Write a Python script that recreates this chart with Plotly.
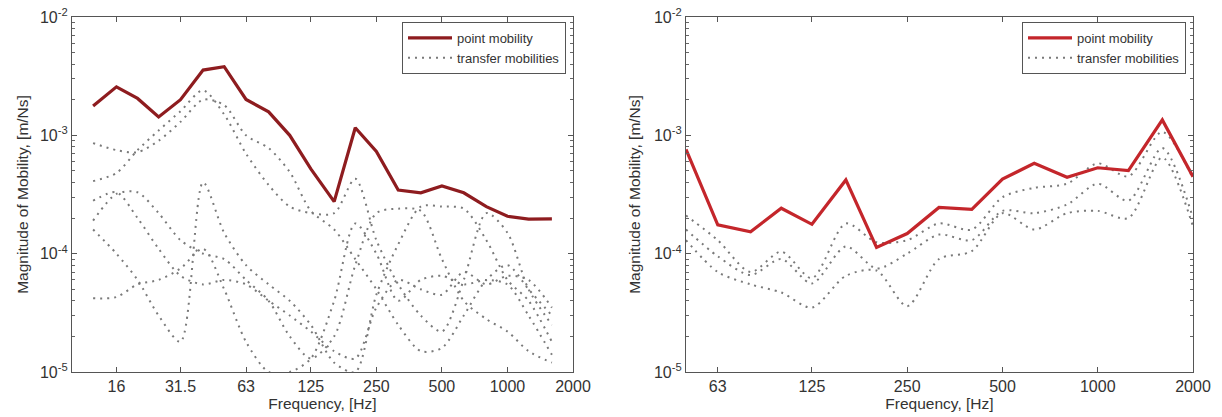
import plotly.graph_objects as go

# ---------------- data ----------------
freq_left = [12.5, 16, 20, 25, 31.5, 40, 50, 63, 80, 100, 125, 160, 200, 250, 315, 400, 500, 630, 800, 1000, 1250, 1600]
point_left = [1.77e-3, 2.57e-3, 2.05e-3, 1.43e-3, 2.0e-3, 3.56e-3, 3.8e-3, 2.01e-3, 1.58e-3, 1.0e-3, 5.2e-4, 2.75e-4,
              1.16e-3, 7.3e-4, 3.45e-4, 3.27e-4, 3.73e-4, 3.27e-4, 2.5e-4, 2.07e-4, 1.96e-4, 1.97e-4]
transfer_left_1 = [4.1e-4, 4.8e-4, 7.5e-4, 1.1e-3, 1.6e-3, 2.4e-3, 1.5e-3, 7.0e-4, 3.8e-4, 2.5e-4, 2.2e-4, 2.2e-4,
                   4.3e-4, 1.3e-4, 5.5e-5, 3.0e-5, 2.2e-5, 6.0e-5, 2.2e-4, 1.5e-4, 5.0e-5, 2.5e-5]
transfer_left_2 = [8.6e-4, 7.5e-4, 7.2e-4, 9.0e-4, 1.3e-3, 2.0e-3, 1.8e-3, 1.0e-3, 7.8e-4, 4.9e-4, 2.3e-4, 1.6e-4,
                   9.0e-5, 5.0e-5, 2.5e-5, 1.5e-5, 1.6e-5, 3.0e-5, 6.0e-5, 8.0e-5, 5.0e-5, 3.0e-5]
transfer_left_3 = [1.9e-4, 3.2e-4, 3.3e-4, 2.2e-4, 1.3e-4, 1.0e-4, 9.0e-5, 6.0e-5, 4.0e-5, 2.0e-5, 1.3e-5, 2.0e-5,
                   8.0e-5, 2.2e-4, 2.4e-4, 2.3e-4, 9.0e-5, 4.0e-5, 2.8e-5, 2.2e-5, 1.5e-5, 1.2e-5]
transfer_left_4 = [1.6e-4, 1.0e-4, 6.0e-5, 3.0e-5, 1.8e-5, 4.0e-4, 1.5e-4, 8.0e-5, 5.5e-5, 4.0e-5, 2.5e-5, 1.2e-5,
                   1.0e-5, 4.5e-5, 1.2e-4, 2.5e-4, 2.5e-4, 2.4e-4, 1.3e-4, 6.0e-5, 4.0e-5, 1.8e-5]
transfer_left_5 = [4.2e-5, 4.3e-5, 5.5e-5, 6.0e-5, 7.5e-5, 1.1e-4, 5.0e-5, 1.8e-5, 1.0e-5, 1.0e-5, 1.3e-5, 4.0e-5,
                   1.8e-4, 1.0e-4, 4.0e-5, 6.0e-5, 6.5e-5, 5.5e-5, 6.0e-5, 5.5e-5, 3.0e-5, 1.4e-5]
transfer_left_6 = [2.8e-4, 3.3e-4, 2.0e-4, 1.1e-4, 6.5e-5, 5.5e-5, 6.0e-5, 5.5e-5, 4.0e-5, 3.0e-5, 2.2e-5, 1.5e-5,
                   1.3e-5, 3.5e-5, 6.0e-5, 5.0e-5, 4.5e-5, 7.0e-5, 5.5e-5, 6.5e-5, 6.0e-5, 3.5e-5]

freq_right = [50, 63, 80, 100, 125, 160, 200, 250, 315, 400, 500, 630, 800, 1000, 1250, 1600, 2000]
point_right = [7.6e-4, 1.75e-4, 1.53e-4, 2.42e-4, 1.77e-4, 4.2e-4, 1.13e-4, 1.48e-4, 2.46e-4, 2.37e-4, 4.27e-4,
               5.8e-4, 4.42e-4, 5.32e-4, 5.03e-4, 1.35e-3, 4.47e-4]
transfer_right_1 = [2.1e-4, 1.3e-4, 7.0e-5, 1.04e-4, 6.2e-5, 1.8e-4, 1.25e-4, 1.3e-4, 1.8e-4, 1.6e-4, 3.0e-4,
                    3.6e-4, 3.9e-4, 5.8e-4, 4.5e-4, 1.07e-3, 4.3e-4]
transfer_right_2 = [1.6e-4, 9.5e-5, 6.6e-5, 9.0e-5, 5.6e-5, 1.15e-4, 7.5e-5, 1.0e-4, 1.45e-4, 1.3e-4, 2.3e-4,
                    2.2e-4, 2.6e-4, 3.9e-4, 2.8e-4, 7.8e-4, 2.0e-4]
transfer_right_3 = [1.3e-4, 7.0e-5, 5.5e-5, 4.7e-5, 3.5e-5, 6.5e-5, 7.2e-5, 3.6e-5, 9.0e-5, 1.05e-4, 2.2e-4,
                    1.6e-4, 2.2e-4, 2.3e-4, 2.0e-4, 6.5e-4, 1.7e-4]

x_tick_left = [16, 31.5, 63, 125, 250, 500, 1000, 2000]
x_tick_right = [63, 125, 250, 500, 1000, 2000]
x_ticktext_left = ["16", "31.5", "63", "125", "250", "500", "1000", "2000"]
x_ticktext_right = ["63", "125", "250", "500", "1000", "2000"]
y_ticks = [1e-5, 1e-4, 1e-3, 1e-2]
y_ticktext = ["10<sup>-5</sup>", "10<sup>-4</sup>", "10<sup>-3</sup>", "10<sup>-2</sup>"]

legend_point = "point mobility"
legend_transfer = "transfer mobilities"
x_title = "Frequency, [Hz]"
y_title = "Magnitude of Mobility, [m/Ns]"

# ---------------- figure ----------------
W, H = 1222, 417
OFF = 8  # the page body adds an 8px margin; shift everything up/left by it
FONT = "Liberation Sans, Arial, sans-serif"
GRAY = "#7a7a7a"
TXT = "#333333"
fig = go.Figure()

def add_panel(freqs, point, transfers, xa, ya, leg, red):
    for i, t in enumerate(transfers):
        fig.add_trace(go.Scatter(
            x=freqs, y=t, mode="lines", xaxis=xa, yaxis=ya,
            line=dict(color=GRAY, width=2, dash="2px,5px", shape="spline", smoothing=0.8),
            name=legend_transfer, legendgroup=leg + "t", showlegend=(i == 0), legend=leg,
            legendrank=2))
    fig.add_trace(go.Scatter(
        x=freqs, y=point, mode="lines", xaxis=xa, yaxis=ya,
        line=dict(color=red, width=3.2),
        name=legend_point, legend=leg, legendrank=1))

add_panel(freq_left, point_left,
          [transfer_left_1, transfer_left_2, transfer_left_3, transfer_left_4, transfer_left_5, transfer_left_6],
          "x", "y", "legend", "#8e1c1f")
add_panel(freq_right, point_right,
          [transfer_right_1, transfer_right_2, transfer_right_3],
          "x2", "y2", "legend2", "#c4262b")

def px_x(v):
    return (v - OFF) / W

def px_y(v):
    return 1 - (v - OFF) / H

ydom = [px_y(372), px_y(17)]
minor_y = [m * 10 ** e for e in (-5, -4, -3) for m in range(2, 10)]

axis_common = dict(
    type="log", showline=True, linecolor="#555555", linewidth=1.2, mirror="ticks",
    ticks="inside", ticklen=5, tickcolor="#555555", showgrid=False, zeroline=False,
    tickfont=dict(family=FONT, size=16, color=TXT), automargin=False,
    ticklabeloverflow="allow",
)

xtitle_font = dict(family=FONT, size=15.5, color=TXT)
ytitle_font = dict(family=FONT, size=15.5, color=TXT)
minor_cfg = dict(tickmode="array", tickvals=minor_y, ticks="inside", ticklen=3, tickcolor="#666666")
legend_common = dict(yanchor="top", xanchor="right", bgcolor="white", bordercolor="#555555", borderwidth=1,
                     font=dict(family=FONT, size=13, color=TXT), tracegroupgap=0, itemwidth=44)

fig.update_layout(
    width=W, height=H, margin=dict(l=0, r=0, t=0, b=0, autoexpand=False),
    paper_bgcolor="white", plot_bgcolor="white",
    font=dict(family=FONT, color=TXT),
    xaxis=dict(axis_common, domain=[px_x(72), px_x(573)], range=[1, 3.30103],
               tickmode="array", tickvals=x_tick_left, ticktext=x_ticktext_left,
               title=dict(text=x_title, standoff=2, font=xtitle_font), anchor="y"),
    yaxis=dict(axis_common, domain=ydom, range=[-5, -2],
               tickmode="array", tickvals=y_ticks, ticktext=y_ticktext, minor=minor_cfg,
               title=dict(text=y_title, standoff=7, font=ytitle_font), anchor="x"),
    xaxis2=dict(axis_common, domain=[px_x(686), px_x(1193)], range=[1.69897, 3.30103],
                tickmode="array", tickvals=x_tick_right, ticktext=x_ticktext_right,
                title=dict(text=x_title, standoff=2, font=xtitle_font), anchor="y2"),
    yaxis2=dict(axis_common, domain=ydom, range=[-5, -2],
                tickmode="array", tickvals=y_ticks, ticktext=y_ticktext, minor=minor_cfg,
                title=dict(text=y_title, standoff=9, font=ytitle_font), anchor="x2"),
    legend=dict(legend_common, x=px_x(566), y=px_y(22)),
    legend2=dict(legend_common, x=px_x(1186), y=px_y(22)),
    showlegend=True,
)

fig.write_html("out.html")
